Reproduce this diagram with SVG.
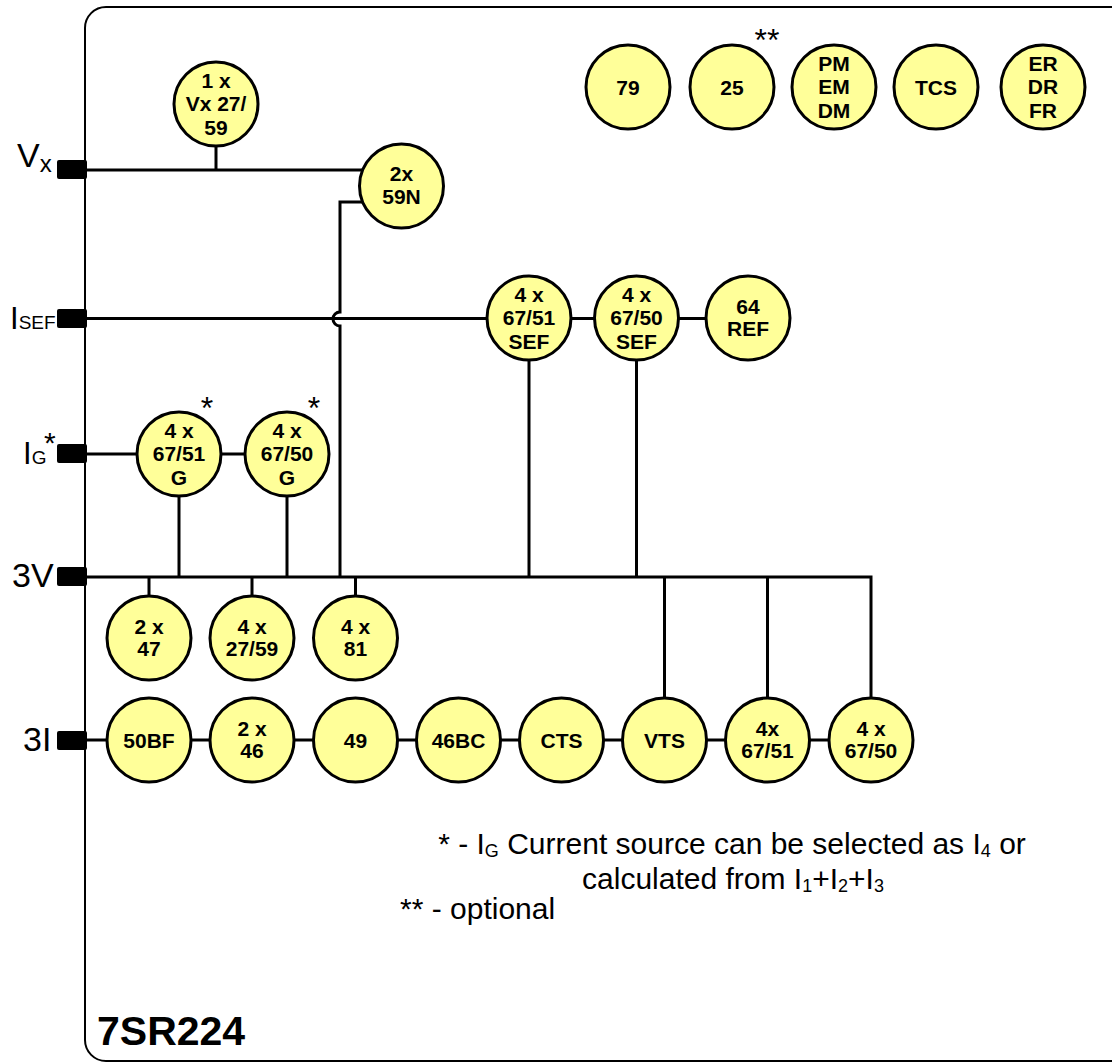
<svg xmlns="http://www.w3.org/2000/svg" width="1112" height="1064" viewBox="0 0 1112 1064">
<style>
.box{fill:none;stroke:#000;stroke-width:2}
.ln{fill:none;stroke:#000;stroke-width:3}
.term{fill:#000}
.nd circle{fill:#ffff99;stroke:#000;stroke-width:3}
.nd text{font-family:"Liberation Sans",Arial,sans-serif;font-size:21px;font-weight:bold;text-anchor:middle;fill:#000}
.lbl{font-family:"Liberation Sans",Arial,sans-serif;fill:#000}
.note{font-family:"Liberation Sans",Arial,sans-serif;font-size:30px;fill:#000}
</style>
<rect width="1112" height="1064" fill="#fff"/>
<path class="box" d="M1116 7 H106 A21 21 0 0 0 85 28 V1040 A21 21 0 0 0 106 1061 H1116"/>

<g id="connectors">
<path class="ln" d="M87 170 H401"/>
<path class="ln" d="M216 146 V170"/>
<path class="ln" d="M401 202 H340 V312 A7 7 0 0 0 340 326 V577"/>
<path class="ln" d="M87 318.5 H748"/>
<path class="ln" d="M87 454 H287"/>
<path class="ln" d="M87 577 H871 V740"/>
<path class="ln" d="M767.5 577 V740 M664.5 577 V740"/>
<path class="ln" d="M179 454 V577 M287 454 V577 M529 318 V577 M636.5 318 V577"/>
<path class="ln" d="M149 577 V638 M252 577 V638 M355.5 577 V638"/>
<path class="ln" d="M87 740 H871"/>
</g>

<g id="terminals">
<rect class="term" x="57" y="160" width="30" height="19" rx="2"/>
<rect class="term" x="57" y="309" width="30" height="19" rx="2"/>
<rect class="term" x="57" y="444" width="30" height="19" rx="2"/>
<rect class="term" x="57" y="567" width="30" height="19" rx="2"/>
<rect class="term" x="57" y="731" width="30" height="19" rx="2"/>
</g>

<g id="input-labels" class="lbl">
<text x="17" y="167" font-size="34">V<tspan font-size="24" dy="5">x</tspan></text>
<text x="10" y="329" font-size="31">I<tspan font-size="19" dy="0">SEF</tspan></text>
<text x="23" y="464" font-size="31">I<tspan font-size="19" dy="0">G</tspan></text>
<text x="44" y="453" font-size="30">*</text>
<text x="12" y="587" font-size="34">3V</text>
<text x="23" y="751" font-size="34">3I</text>
</g>

<g id="n-vx2759" class="nd"><circle cx="216" cy="104" r="42"/><text x="216" y="87.5">1 x</text><text x="216" y="111">Vx 27/</text><text x="216" y="134.5">59</text></g>
<g id="n-59n" class="nd"><circle cx="401.5" cy="186" r="42"/><text x="401.5" y="181">2x</text><text x="401.5" y="204">59N</text></g>

<g id="n-79" class="nd"><circle cx="628" cy="87" r="42"/><text x="628" y="94.5">79</text></g>
<g id="n-25" class="nd"><circle cx="732" cy="87" r="42"/><text x="732" y="94.5">25</text></g>
<g id="n-pm" class="nd"><circle cx="834" cy="87" r="42"/><text x="834" y="70.5">PM</text><text x="834" y="94">EM</text><text x="834" y="117.5">DM</text></g>
<g id="n-tcs" class="nd"><circle cx="936" cy="87" r="42"/><text x="936" y="94.5">TCS</text></g>
<g id="n-er" class="nd"><circle cx="1043" cy="87" r="42"/><text x="1043" y="70.5">ER</text><text x="1043" y="94">DR</text><text x="1043" y="117.5">FR</text></g>

<g id="n-6751sef" class="nd"><circle cx="529" cy="318" r="42"/><text x="529" y="301.5">4 x</text><text x="529" y="325">67/51</text><text x="529" y="348.5">SEF</text></g>
<g id="n-6750sef" class="nd"><circle cx="636.5" cy="318" r="42"/><text x="636.5" y="301.5">4 x</text><text x="636.5" y="325">67/50</text><text x="636.5" y="348.5">SEF</text></g>
<g id="n-64ref" class="nd"><circle cx="748" cy="318" r="42"/><text x="748" y="313.5">64</text><text x="748" y="336">REF</text></g>

<g id="n-6751g" class="nd"><circle cx="179" cy="454" r="42"/><text x="179" y="437.5">4 x</text><text x="179" y="461">67/51</text><text x="179" y="484.5">G</text></g>
<g id="n-6750g" class="nd"><circle cx="287" cy="454" r="42"/><text x="287" y="437.5">4 x</text><text x="287" y="461">67/50</text><text x="287" y="484.5">G</text></g>

<g id="n-47" class="nd"><circle cx="149" cy="638" r="42"/><text x="149" y="633.5">2 x</text><text x="149" y="656">47</text></g>
<g id="n-2759" class="nd"><circle cx="252" cy="638" r="42"/><text x="252" y="633.5">4 x</text><text x="252" y="656">27/59</text></g>
<g id="n-81" class="nd"><circle cx="355.5" cy="638" r="42"/><text x="355.5" y="633.5">4 x</text><text x="355.5" y="656">81</text></g>

<g id="n-50bf" class="nd"><circle cx="149" cy="740" r="42"/><text x="149" y="747.5">50BF</text></g>
<g id="n-46" class="nd"><circle cx="252" cy="740" r="42"/><text x="252" y="735.5">2 x</text><text x="252" y="758">46</text></g>
<g id="n-49" class="nd"><circle cx="355.5" cy="740" r="42"/><text x="355.5" y="747.5">49</text></g>
<g id="n-46bc" class="nd"><circle cx="458.5" cy="740" r="42"/><text x="458.5" y="747.5">46BC</text></g>
<g id="n-cts" class="nd"><circle cx="561.5" cy="740" r="42"/><text x="561.5" y="747.5">CTS</text></g>
<g id="n-vts" class="nd"><circle cx="664.5" cy="740" r="42"/><text x="664.5" y="747.5">VTS</text></g>
<g id="n-6751" class="nd"><circle cx="767.5" cy="740" r="42"/><text x="767.5" y="735.5">4x</text><text x="767.5" y="758">67/51</text></g>
<g id="n-6750" class="nd"><circle cx="871" cy="740" r="42"/><text x="871" y="735.5">4 x</text><text x="871" y="758">67/50</text></g>

<g id="marks" class="lbl" font-size="32">
<text x="207" y="419" text-anchor="middle">*</text>
<text x="314" y="419" text-anchor="middle">*</text>
<text x="767" y="51" text-anchor="middle">**</text>
</g>

<g id="notes" class="note">
<text x="732" y="854" text-anchor="middle">* - I<tspan font-size="18" dy="3">G</tspan><tspan dy="-3"> Current source can be selected as I</tspan><tspan font-size="18" dy="3">4</tspan><tspan dy="-3"> or</tspan></text>
<text x="733" y="889" text-anchor="middle">calculated from I<tspan font-size="18" dy="3">1</tspan><tspan dy="-3">+I</tspan><tspan font-size="18" dy="3">2</tspan><tspan dy="-3">+I</tspan><tspan font-size="18" dy="3">3</tspan></text>
<text x="400" y="919">** - optional</text>
</g>

<text id="title" x="97" y="1045" class="lbl" font-size="41" font-weight="bold">7SR224</text>
</svg>
